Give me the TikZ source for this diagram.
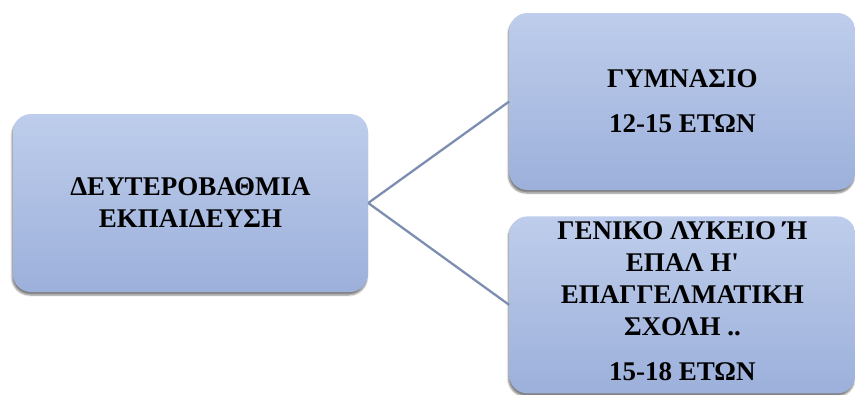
\documentclass[tikz,border=0pt]{standalone}
\usepackage{fontspec}
\newfontfamily\boxfont{Liberation Serif}
\usetikzlibrary{positioning,shadows.blur}
\definecolor{boxtop}{RGB}{190,205,235}
\definecolor{boxbot}{RGB}{156,176,219}
\definecolor{linkcol}{RGB}{125,142,176}
\tikzstyle{stage}=[rounded corners=18pt, top color=boxtop, bottom color=boxbot, draw=none,
  blur shadow={shadow xshift=-1pt, shadow yshift=-3pt, shadow blur steps=6, shadow opacity=50},
  align=center, font=\boxfont\fontsize{27}{32}\selectfont\bfseries, inner sep=0pt]
\tikzstyle{link}=[draw=linkcol, line width=2.3pt]

\begin{document}
\begin{tikzpicture}[x=1pt,y=1pt]
    \useasboundingbox (0,0) rectangle (855,-394);
    \node [stage, minimum width=355pt, minimum height=178pt] (deut) at (190.5,-203)
        {ΔΕΥΤΕΡΟΒΑΘΜΙΑ\\ΕΚΠΑΙΔΕΥΣΗ};
    \node [stage, minimum width=346pt, minimum height=177pt, anchor=west] (gym)
        [right=141pt of deut.east, yshift=101.5pt] {ΓΥΜΝΑΣΙΟ\\[13pt]12-15 ΕΤΩΝ};
    \node [stage, minimum width=346pt, minimum height=177pt] (lyk) [below=26pt of gym]
        {\\[-22pt]ΓΕΝΙΚΟ ΛΥΚΕΙΟ Ή\\ΕΠΑΛ Η'\\ΕΠΑΓΓΕΛΜΑΤΙΚΗ\\ΣΧΟΛΗ ..\\[13pt]15-18 ΕΤΩΝ};
    \path [link] (deut.east) -- (gym.west);
    \path [link] (deut.east) -- (lyk.west);
\end{tikzpicture}
\end{document}
